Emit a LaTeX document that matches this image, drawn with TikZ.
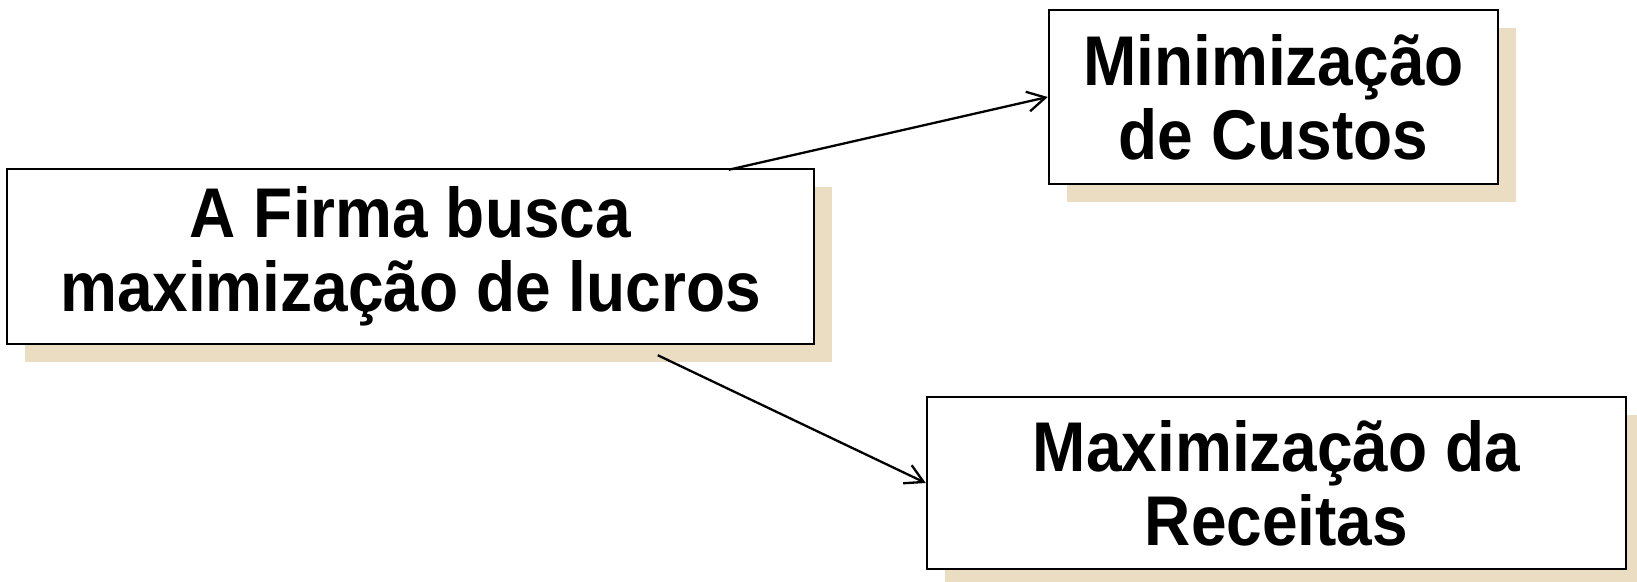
\documentclass[tikz,border=0pt]{standalone}
\usepackage{fontspec}
\setmainfont{Liberation Sans}
\usetikzlibrary{shadows,arrows.meta,calc}
\definecolor{shadowcol}{RGB}{234,221,194}
\newcommand\tallline[1]{\scalebox{1}[1.1]{#1}}
\tikzset{
  boxnode/.style={draw=black, line width=1.25pt, fill=white, inner sep=0pt,
    align=center, font=\fontsize{32pt}{37pt}\selectfont\bfseries,
    general shadow={fill=shadowcol, shadow xshift=9pt, shadow yshift=-9pt}},
  conn/.style={line width=1.15pt, -{Straight Barb[length=9pt,width=10pt,line width=1.15pt]}}
}
\begin{document}
\begin{tikzpicture}[x=0.5pt,y=-0.5pt]
\useasboundingbox (0,0) rectangle (1637,582);
\node[boxnode, minimum width=403.5pt, minimum height=87.5pt] (A) at (410.5,256.5)
  {\tallline{A Firma busca}\\\tallline{maximização de lucros}};
\node[boxnode, minimum width=224.5pt, minimum height=87pt] (B) at (1273.5,97)
  {\tallline{Minimização}\\\tallline{de Custos}};
\node[boxnode, minimum width=349.5pt, minimum height=86pt] (C) at (1276.5,483)
  {\tallline{Maximização da}\\\tallline{Receitas}};
\coordinate (a1) at ($(A.north west)+(723,2)$);
\coordinate (a2) at ($(A.south west)+(652,10)$);
\draw[conn] (a1) -- (B.west);
\draw[conn] (a2) -- (C.west);
\end{tikzpicture}
\end{document}
